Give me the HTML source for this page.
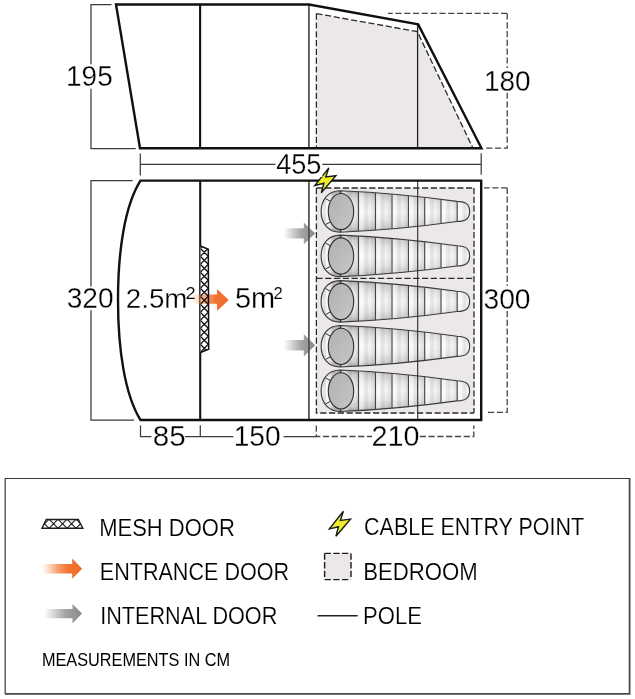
<!DOCTYPE html>
<html><head><meta charset="utf-8">
<style>
html,body{margin:0;padding:0;background:#fff;}
body{width:635px;height:699px;overflow:hidden;position:relative;}
svg{position:absolute;left:0;top:0;will-change:transform;}
text{font-family:"Liberation Sans",sans-serif;fill:#000;}
</style></head>
<body>
<svg width="635" height="699" viewBox="0 0 635 699">
<defs>
  <linearGradient id="bodyG" x1="0" y1="0" x2="0" y2="1">
    <stop offset="0" stop-color="#a4a4a4"/>
    <stop offset="0.12" stop-color="#d2d2d2"/>
    <stop offset="0.3" stop-color="#ececec"/>
    <stop offset="0.5" stop-color="#f8f8f8"/>
    <stop offset="0.7" stop-color="#ececec"/>
    <stop offset="0.88" stop-color="#d2d2d2"/>
    <stop offset="1" stop-color="#a4a4a4"/>
  </linearGradient>
  <linearGradient id="headG" x1="0" y1="0" x2="1" y2="1">
    <stop offset="0" stop-color="#b0b0b0"/>
    <stop offset="1" stop-color="#c6c6c6"/>
  </linearGradient>
  <linearGradient id="segG" x1="0" y1="0" x2="1" y2="0">
    <stop offset="0" stop-color="#fff" stop-opacity="0.6"/>
    <stop offset="0.3" stop-color="#fff" stop-opacity="0.3"/>
    <stop offset="0.65" stop-color="#000" stop-opacity="0"/>
    <stop offset="1" stop-color="#000" stop-opacity="0.10"/>
  </linearGradient>
  <pattern id="segP" patternUnits="userSpaceOnUse" x="358.5" y="0" width="16.4" height="100">
    <rect x="0" y="0" width="16.4" height="100" fill="url(#segG)"/>
  </pattern>
  <linearGradient id="orG" x1="0" y1="0" x2="1" y2="0">
    <stop offset="0" stop-color="#f58a48" stop-opacity="0"/>
    <stop offset="0.4" stop-color="#f47a38" stop-opacity="0.75"/>
    <stop offset="0.65" stop-color="#f27232" stop-opacity="1"/>
    <stop offset="1" stop-color="#f06a28"/>
  </linearGradient>
  <linearGradient id="grG" x1="0" y1="0" x2="1" y2="0">
    <stop offset="0" stop-color="#9a9a9a" stop-opacity="0"/>
    <stop offset="0.55" stop-color="#969696" stop-opacity="0.85"/>
    <stop offset="1" stop-color="#888888"/>
  </linearGradient>
  <g id="bag">
    <path d="M340,-20.75 Q398.5,-18.31 457,-10.1 C465.5,-9.9 469.6,-7.5 469.6,0 C469.6,7.5 465.5,9.9 457,10.1 Q398.5,18.31 340,20.75 C328,20.75 321.1,11.5 321.1,0 C321.1,-11.5 328,-20.75 340,-20.75 Z" fill="url(#bodyG)"/>
    <path d="M340,-20.75 Q398.5,-18.31 457,-10.1 C465.5,-9.9 469.6,-7.5 469.6,0 C469.6,7.5 465.5,9.9 457,10.1 Q398.5,18.31 340,20.75 C328,20.75 321.1,11.5 321.1,0 C321.1,-11.5 328,-20.75 340,-20.75 Z" fill="url(#segP)" stroke="#3c3c3c" stroke-width="1.15"/>
    <ellipse cx="341" cy="0.1" rx="12.7" ry="18.1" fill="url(#headG)" stroke="#333" stroke-width="1.15"/>
    <path d="M325.5,-12.85 L330.6,-10.05 M325.5,13.15 L330.6,10.45 M340.4,-20.6 V-17.9 M340.4,20.6 V18.1" stroke="#333" stroke-width="1"/>
    <path d="M358.5,-19.83 V19.83 M375.5,-18.74 V18.74 M392,-17.44 V17.44 M408.4,-15.93 V15.93 M424.7,-14.19 V14.19 M441,-12.24 V12.24 M457.2,-10.07 V10.07" stroke="#444" stroke-width="1.15"/>
  </g>
  <g id="bolt">
    <path d="M328.8,167.9 L325.8,177 L335.9,175.7 L321.3,192.8 L323.9,183.3 L314.8,185.5 Z" fill="#eeee2c" stroke="#1a1a1a" stroke-width="1.4" stroke-linejoin="miter"/>
  </g>
</defs>

<!-- ============ TOP PLAN (side view) ============ -->
<!-- bedroom fill -->
<path d="M316.5,14 L417,32 L473,148.3 L316.5,148.3 Z" fill="#ece8e9"/>
<path d="M316.4,13.6 L417.3,31.6 L473,148.3 M316.4,13.6 L316.4,148.3" fill="none" stroke="#2a2a2a" stroke-width="1.3" stroke-dasharray="6.2 2.6"/>
<!-- inner poles -->
<line x1="200.1" y1="4.7" x2="200.1" y2="148.3" stroke="#111" stroke-width="2.1"/>
<line x1="308.9" y1="4.7" x2="308.9" y2="148.3" stroke="#555" stroke-width="1.8"/>
<line x1="417.6" y1="24.7" x2="417.6" y2="148.3" stroke="#222" stroke-width="1.3"/>
<!-- outline -->
<path d="M116,4.5 L309,4.5 L418.2,24.4 L481.5,148.3 L140,148.3 Z" fill="none" stroke="#111" stroke-width="2.4" stroke-linejoin="miter"/>

<!-- dim 195 -->
<path d="M111.5,4.5 H91 V148.5 H135.7" fill="none" stroke="#3c3c3c" stroke-width="1.25"/>
<!-- dim 180 dashed -->
<path d="M507.2,13.4 H388 M507.2,13.4 V148.2 H486" fill="none" stroke="#444" stroke-width="1.3" stroke-dasharray="6.2 2.6"/>
<!-- dim 455 -->
<path d="M140.3,164.4 H481.2 M140.3,153.6 V175.6 M481.2,153.3 V174.7" fill="none" stroke="#3c3c3c" stroke-width="1.25"/>

<!-- ============ BOTTOM PLAN ============ -->
<rect x="316.4" y="188" width="157.6" height="225.3" fill="#ece8e9"/>
<use href="#bag" transform="translate(0,211.45)"/>
<use href="#bag" transform="translate(0,255.9)"/>
<use href="#bag" transform="translate(0,301.4)"/>
<use href="#bag" transform="translate(0,346.3)"/>
<use href="#bag" transform="translate(0,390.8)"/>
<path d="M316.4,188 H474 M316.4,188 V413 H474 M474,188 V413 M316.4,278.3 H474" fill="none" stroke="#2a2a2a" stroke-width="1.3" stroke-dasharray="6.2 2.6"/>
<path d="M283.5,228.2 H303.8 V222.6 L315.2,233.4 L303.8,244.3 V238.6 H283.5 Z" fill="url(#grG)"/>
<path d="M283.5,340.1 H303.8 V334.2 L315.2,345.3 L303.8,356.4 V350.5 H283.5 Z" fill="url(#grG)"/>
<line x1="200.2" y1="180.5" x2="200.2" y2="419.5" stroke="#111" stroke-width="2.1"/>
<line x1="308.9" y1="180.5" x2="308.9" y2="419.5" stroke="#555" stroke-width="1.8"/>
<line x1="417.7" y1="180.5" x2="417.7" y2="419.5" stroke="#2a2a2a" stroke-width="1.1"/>
<path d="M140.5,180.6 H481.2 V420 H140.5 C125,395 118,350 118,300 C118,250 125,205 140.5,180.6 Z" fill="none" stroke="#111" stroke-width="2.4"/>

<!-- dim 320 -->
<path d="M132.6,180.5 H91 V420.2 H134" fill="none" stroke="#3c3c3c" stroke-width="1.25"/>
<!-- dim 300 dashed -->
<path d="M507.2,187.8 H484 M507.2,187.8 V412.4 H488" fill="none" stroke="#444" stroke-width="1.3" stroke-dasharray="6.2 2.6"/>
<!-- bottom dims -->
<path d="M140.5,425.5 V436.5 H316.3 M200.3,425.3 V436.5" fill="none" stroke="#3c3c3c" stroke-width="1.25"/>
<path d="M316.3,425.5 V436.5 H473.8 V425.5" fill="none" stroke="#444" stroke-width="1.3" stroke-dasharray="6.2 2.6"/>

<!-- mesh door plan -->
<path d="M200.5,246 L208.3,249.2 L208.7,349.3 L200.5,352.5 Z" fill="#fff"/>
<path d="M192,294.5 H217 V289 L228.7,300 L217,311 V303.8 H192 Z" fill="url(#orG)"/>

<clipPath id="meshClip"><path d="M200.5,246 L208.3,249.2 L208.7,349.3 L200.5,352.5 Z"/></clipPath>
<g clip-path="url(#meshClip)">
    <path d="M199.3,239.3 L209.3,249.3 M209.3,239.3 L199.3,249.3 M199.3,247.3 L209.3,257.3 M209.3,247.3 L199.3,257.3 M199.3,255.3 L209.3,265.3 M209.3,255.3 L199.3,265.3 M199.3,263.3 L209.3,273.3 M209.3,263.3 L199.3,273.3 M199.3,271.3 L209.3,281.3 M209.3,271.3 L199.3,281.3 M199.3,279.3 L209.3,289.3 M209.3,279.3 L199.3,289.3 M199.3,287.3 L209.3,297.3 M209.3,287.3 L199.3,297.3 M199.3,295.3 L209.3,305.3 M209.3,295.3 L199.3,305.3 M199.3,303.3 L209.3,313.3 M209.3,303.3 L199.3,313.3 M199.3,311.3 L209.3,321.3 M209.3,311.3 L199.3,321.3 M199.3,319.3 L209.3,329.3 M209.3,319.3 L199.3,329.3 M199.3,327.3 L209.3,337.3 M209.3,327.3 L199.3,337.3 M199.3,335.3 L209.3,345.3 M209.3,335.3 L199.3,345.3 M199.3,343.3 L209.3,353.3 M209.3,343.3 L199.3,353.3 M199.3,351.3 L209.3,361.3 M209.3,351.3 L199.3,361.3" stroke="#111" stroke-width="1.25"/>
</g>
<path d="M200.5,246 L208.3,249.2 L208.7,349.3 L200.5,352.5" fill="none" stroke="#111" stroke-width="1.5"/>

<!-- arrows -->

<use href="#bolt"/>

<rect x="66" y="64.3" width="49.0" height="24.5" fill="#fff"/>
<rect x="484" y="68" width="48.0" height="24.6" fill="#fff"/>
<rect x="275.5" y="150" width="46.8" height="27.0" fill="#fff"/>
<rect x="66" y="286.6" width="49.0" height="23.6" fill="#fff"/>
<rect x="483" y="286" width="48.0" height="24.5" fill="#fff"/>
<rect x="151.4" y="424" width="33.6" height="25.0" fill="#fff"/>
<rect x="233.3" y="424" width="50.3" height="25.0" fill="#fff"/>
<rect x="372" y="424" width="46.0" height="25.0" fill="#fff"/>
<g stroke="#fff" stroke-width="0.3">
<text x="68.5" y="86.5" font-size="28.92" transform="matrix(0.9667,0,0,1,-0.133,0)">195</text>
<text x="486.4" y="90.7" font-size="29.80" transform="matrix(0.9391,0,0,1,27.165,0)">180</text>
<text x="276.6" y="173.9" font-size="29.51" transform="matrix(0.9187,0,0,1,22.106,0)">455</text>
<text x="68.3" y="308.4" font-size="29.65" transform="matrix(0.9489,0,0,1,1.874,0)">320</text>
<text x="126.9" y="308.3" font-size="28.34" transform="matrix(0.9767,0,0,1,1.887,0)">2.5m</text>
<text x="236.0" y="308.5" font-size="29.36" transform="matrix(0.9868,0,0,1,2.118,0)">5m</text>
<text x="484.7" y="308.7" font-size="29.80" transform="matrix(0.9468,0,0,1,24.551,0)">300</text>
<text x="153.9" y="446.5" font-size="29.36" transform="matrix(1.0100,0,0,1,-2.650,0)">85</text>
<text x="235.8" y="446.5" font-size="29.36" transform="matrix(0.9587,0,0,1,7.630,0)">150</text>
<text x="373.2" y="446.1" font-size="28.78" transform="matrix(1.0000,0,0,1,-1.800,0)">210</text>
</g><g stroke="#fff" stroke-width="0.15">
<text x="101.0" y="535.6" font-size="23.98" transform="matrix(0.9179,0,0,1,6.453,0)">MESH DOOR</text>
<text x="101.8" y="580.2" font-size="23.84" transform="matrix(0.9049,0,0,1,7.695,0)">ENTRANCE DOOR</text>
<text x="102.0" y="624.3" font-size="23.55" transform="matrix(0.9196,0,0,1,6.364,0)">INTERNAL DOOR</text>
<text x="365.0" y="535.4" font-size="23.84" transform="matrix(0.9012,0,0,1,35.148,0)">CABLE ENTRY POINT</text>
<text x="365.0" y="580.0" font-size="23.69" transform="matrix(0.9370,0,0,1,21.130,0)">BEDROOM</text>
<text x="365.0" y="623.9" font-size="23.26" transform="matrix(0.9492,0,0,1,16.661,0)">POLE</text>
</g>
<text x="42.9" y="666.0" font-size="17.59" transform="matrix(0.9269,0,0,1,2.118,0)">MEASUREMENTS IN CM</text>
<g stroke="#fff" stroke-width="0.1">
<text x="186.8" y="299.3" font-size="17.01" transform="matrix(1.0714,0,0,1,-14.629,0)">2</text>
<text x="274.3" y="299.3" font-size="17.01" transform="matrix(0.9750,0,0,1,6.175,0)">2</text>
</g>
<!-- ============ LEGEND ============ -->
<path d="M5.2,694 V478.5 H629.5" fill="none" stroke="#3a3a3a" stroke-width="1.2"/><path d="M629.6,478 V693.8 H5" fill="none" stroke="#4a4a4a" stroke-width="1.8"/>
<clipPath id="meshClip2"><path d="M46.3,519.5 L78.3,519.5 L82.8,528.2 L42,528.2 Z"/></clipPath>
<g clip-path="url(#meshClip2)">
  <path d="M40,519.2 l9.1,9.1 M49,519.2 l9.1,9.1 M58,519.2 l9.1,9.1 M67,519.2 l9.1,9.1 M76,519.2 l9.1,9.1 M31,519.2 l9.1,9.1 M40,528.3 l9.1,-9.1 M49,528.3 l9.1,-9.1 M58,528.3 l9.1,-9.1 M67,528.3 l9.1,-9.1 M76,528.3 l9.1,-9.1 M31,528.3 l9.1,-9.1" stroke="#1d1d1d" stroke-width="1.1"/>
</g>
<path d="M46.3,519.5 L78.3,519.5 L82.8,528.2 L42,528.2 Z" fill="none" stroke="#1d1d1d" stroke-width="1.4"/>

<path d="M42.3,564 H72.2 V558.6 L82.2,568.8 L72.2,578.8 V573.6 H42.3 Z" fill="url(#orG)"/>

<path d="M44,609 H72.5 V603.9 L82,613.6 L72.5,623.6 V618.2 H44 Z" fill="url(#grG)"/>


<use href="#bolt" transform="translate(14.6,343.4)"/>

<path d="M324.6,553.4 H351 V579.6 H324.6 Z" fill="#ece8e9"/><path d="M324.6,553.4 H351 M324.6,579.6 H351 M324.6,553.4 V579.6 M351,553.4 V579.6" fill="none" stroke="#1a1a1a" stroke-width="1.4" stroke-dasharray="6.3 2.4"/>

<line x1="317.6" y1="615.8" x2="357.7" y2="615.8" stroke="#222" stroke-width="1.4"/>
</svg>
</body></html>
